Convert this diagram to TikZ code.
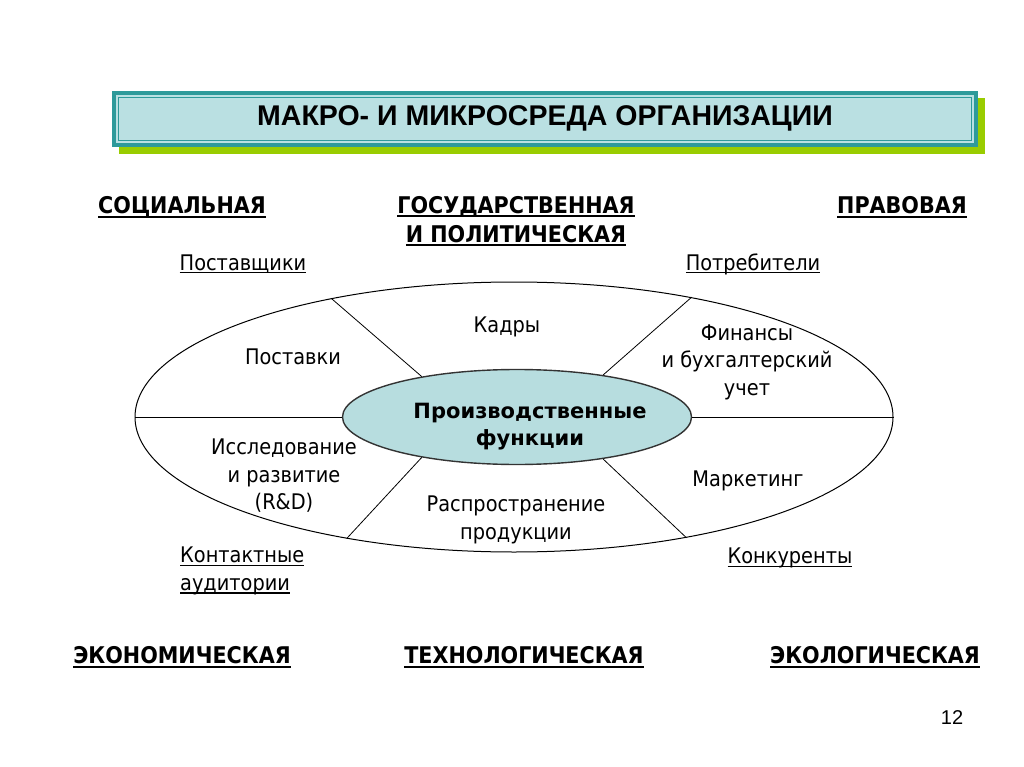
\documentclass[tikz,border=0pt]{standalone}
\usepackage{fontspec}
\setmainfont{DejaVu Sans}
\newfontfamily\condfont{DejaVu Sans Condensed}
\newfontfamily\arialfont{Liberation Sans}
\usetikzlibrary{shapes.geometric}
\definecolor{boxteal}{HTML}{2E9A9A}
\definecolor{boxfill}{HTML}{BAE0E2}
\definecolor{boxshadow}{HTML}{99CC00}
\definecolor{corefill}{HTML}{B7DDDF}
\newcommand{\ulbox}[3]{\setbox0\hbox{#3}\rlap{\rule[#1]{\wd0}{#2}}\box0}
\newcommand{\envname}[1]{\ulbox{-4pt}{1.8pt}{#1}}
\newcommand{\partnername}[1]{\ulbox{-3.2pt}{1.3pt}{#1}}

\begin{document}
\begin{tikzpicture}[
  x=1pt,y=-1pt,
  txt/.style={font=\condfont\fontsize{21.5}{27.5}\selectfont,align=center,inner sep=0pt},
  envlabel/.style={font=\condfont\bfseries\fontsize{23}{29}\selectfont,align=center,inner sep=0pt},
  sector/.style={draw,line width=0.8pt}
]
\useasboundingbox (0,0) rectangle (1024,767);

% title
\fill[boxshadow] (119,98) rectangle (985,154);
\node[fill=boxteal,minimum width=866pt,minimum height=56pt,inner sep=0pt] (titlebox) at (545,119) {};
\fill[boxfill] ([shift={(4,4)}]titlebox.north west) rectangle ([shift={(-4,-4)}]titlebox.south east);
\draw[boxteal,line width=1pt] ([shift={(7,7)}]titlebox.north west) rectangle ([shift={(-7,-7)}]titlebox.south east);
\node[font=\arialfont\bfseries\fontsize{28.5}{30}\selectfont,inner sep=0pt] (title) at (545,118) {МАКРО- И МИКРОСРЕДА ОРГАНИЗАЦИИ};

% environment factors
\node[envlabel] (social) at (182,207) {\envname{СОЦИАЛЬНАЯ}};
\node[envlabel,anchor=north] (state) at (516,196) {\envname{ГОСУДАРСТВЕННАЯ}\\\envname{И ПОЛИТИЧЕСКАЯ}};
\node[envlabel] (legal) at (902,207) {\envname{ПРАВОВАЯ}};
\node[envlabel] (economic) at (182,657) {\envname{ЭКОНОМИЧЕСКАЯ}};
\node[envlabel] (techno) at (524,657) {\envname{ТЕХНОЛОГИЧЕСКАЯ}};
\node[envlabel] (ecology) at (875,657) {\envname{ЭКОЛОГИЧЕСКАЯ}};

% partners
\node[txt] (suppliers) at (243,264) {\partnername{Поставщики}};
\node[txt] (consumers) at (753,264) {\partnername{Потребители}};
\node[txt,align=left,anchor=north west] (audience) at (180,547) {\partnername{Контактные}\\\partnername{аудитории}};
\node[txt] (rivals) at (790,558) {\partnername{Конкуренты}};

% ellipses
\node[draw,ellipse,minimum width=758pt,minimum height=270pt,inner sep=0pt,line width=1pt] (outer) at (514,417) {};
\node[draw=black!80,fill=corefill,ellipse,minimum width=349pt,minimum height=95pt,inner sep=0pt,line width=1.4pt] (core) at (517,417) {};
\node[font=\bfseries\fontsize{21}{27}\selectfont,align=center,inner sep=0pt] (corelabel) at (530,427) {Производственные\\функции};

\draw[sector] (core.west) -- (outer.west);
\draw[sector] (core.east) -- (outer.east);
\draw[sector] (core.157) -- (outer.147);
\draw[sector] (core.26) -- (outer.34);
\draw[sector] (core.-26) -- (outer.-35);
\draw[sector] (core.203) -- (outer.216);

% functions
\node[txt] (staff) at (507,327) {Кадры};
\node[txt] (supply) at (293,357) {Поставки};
\node[txt] (finance) at (747,362) {Финансы\\и бухгалтерский\\учет};
\node[txt] (research) at (284,476) {Исследование\\и развитие\\(R\&D)};
\node[txt] (marketing) at (748,481) {Маркетинг};
\node[txt] (distrib) at (516,520) {Распространение\\продукции};

\node[font=\arialfont\fontsize{20}{24}\selectfont,inner sep=0pt] (pagenum) at (952,718) {12};
\end{tikzpicture}
\end{document}
